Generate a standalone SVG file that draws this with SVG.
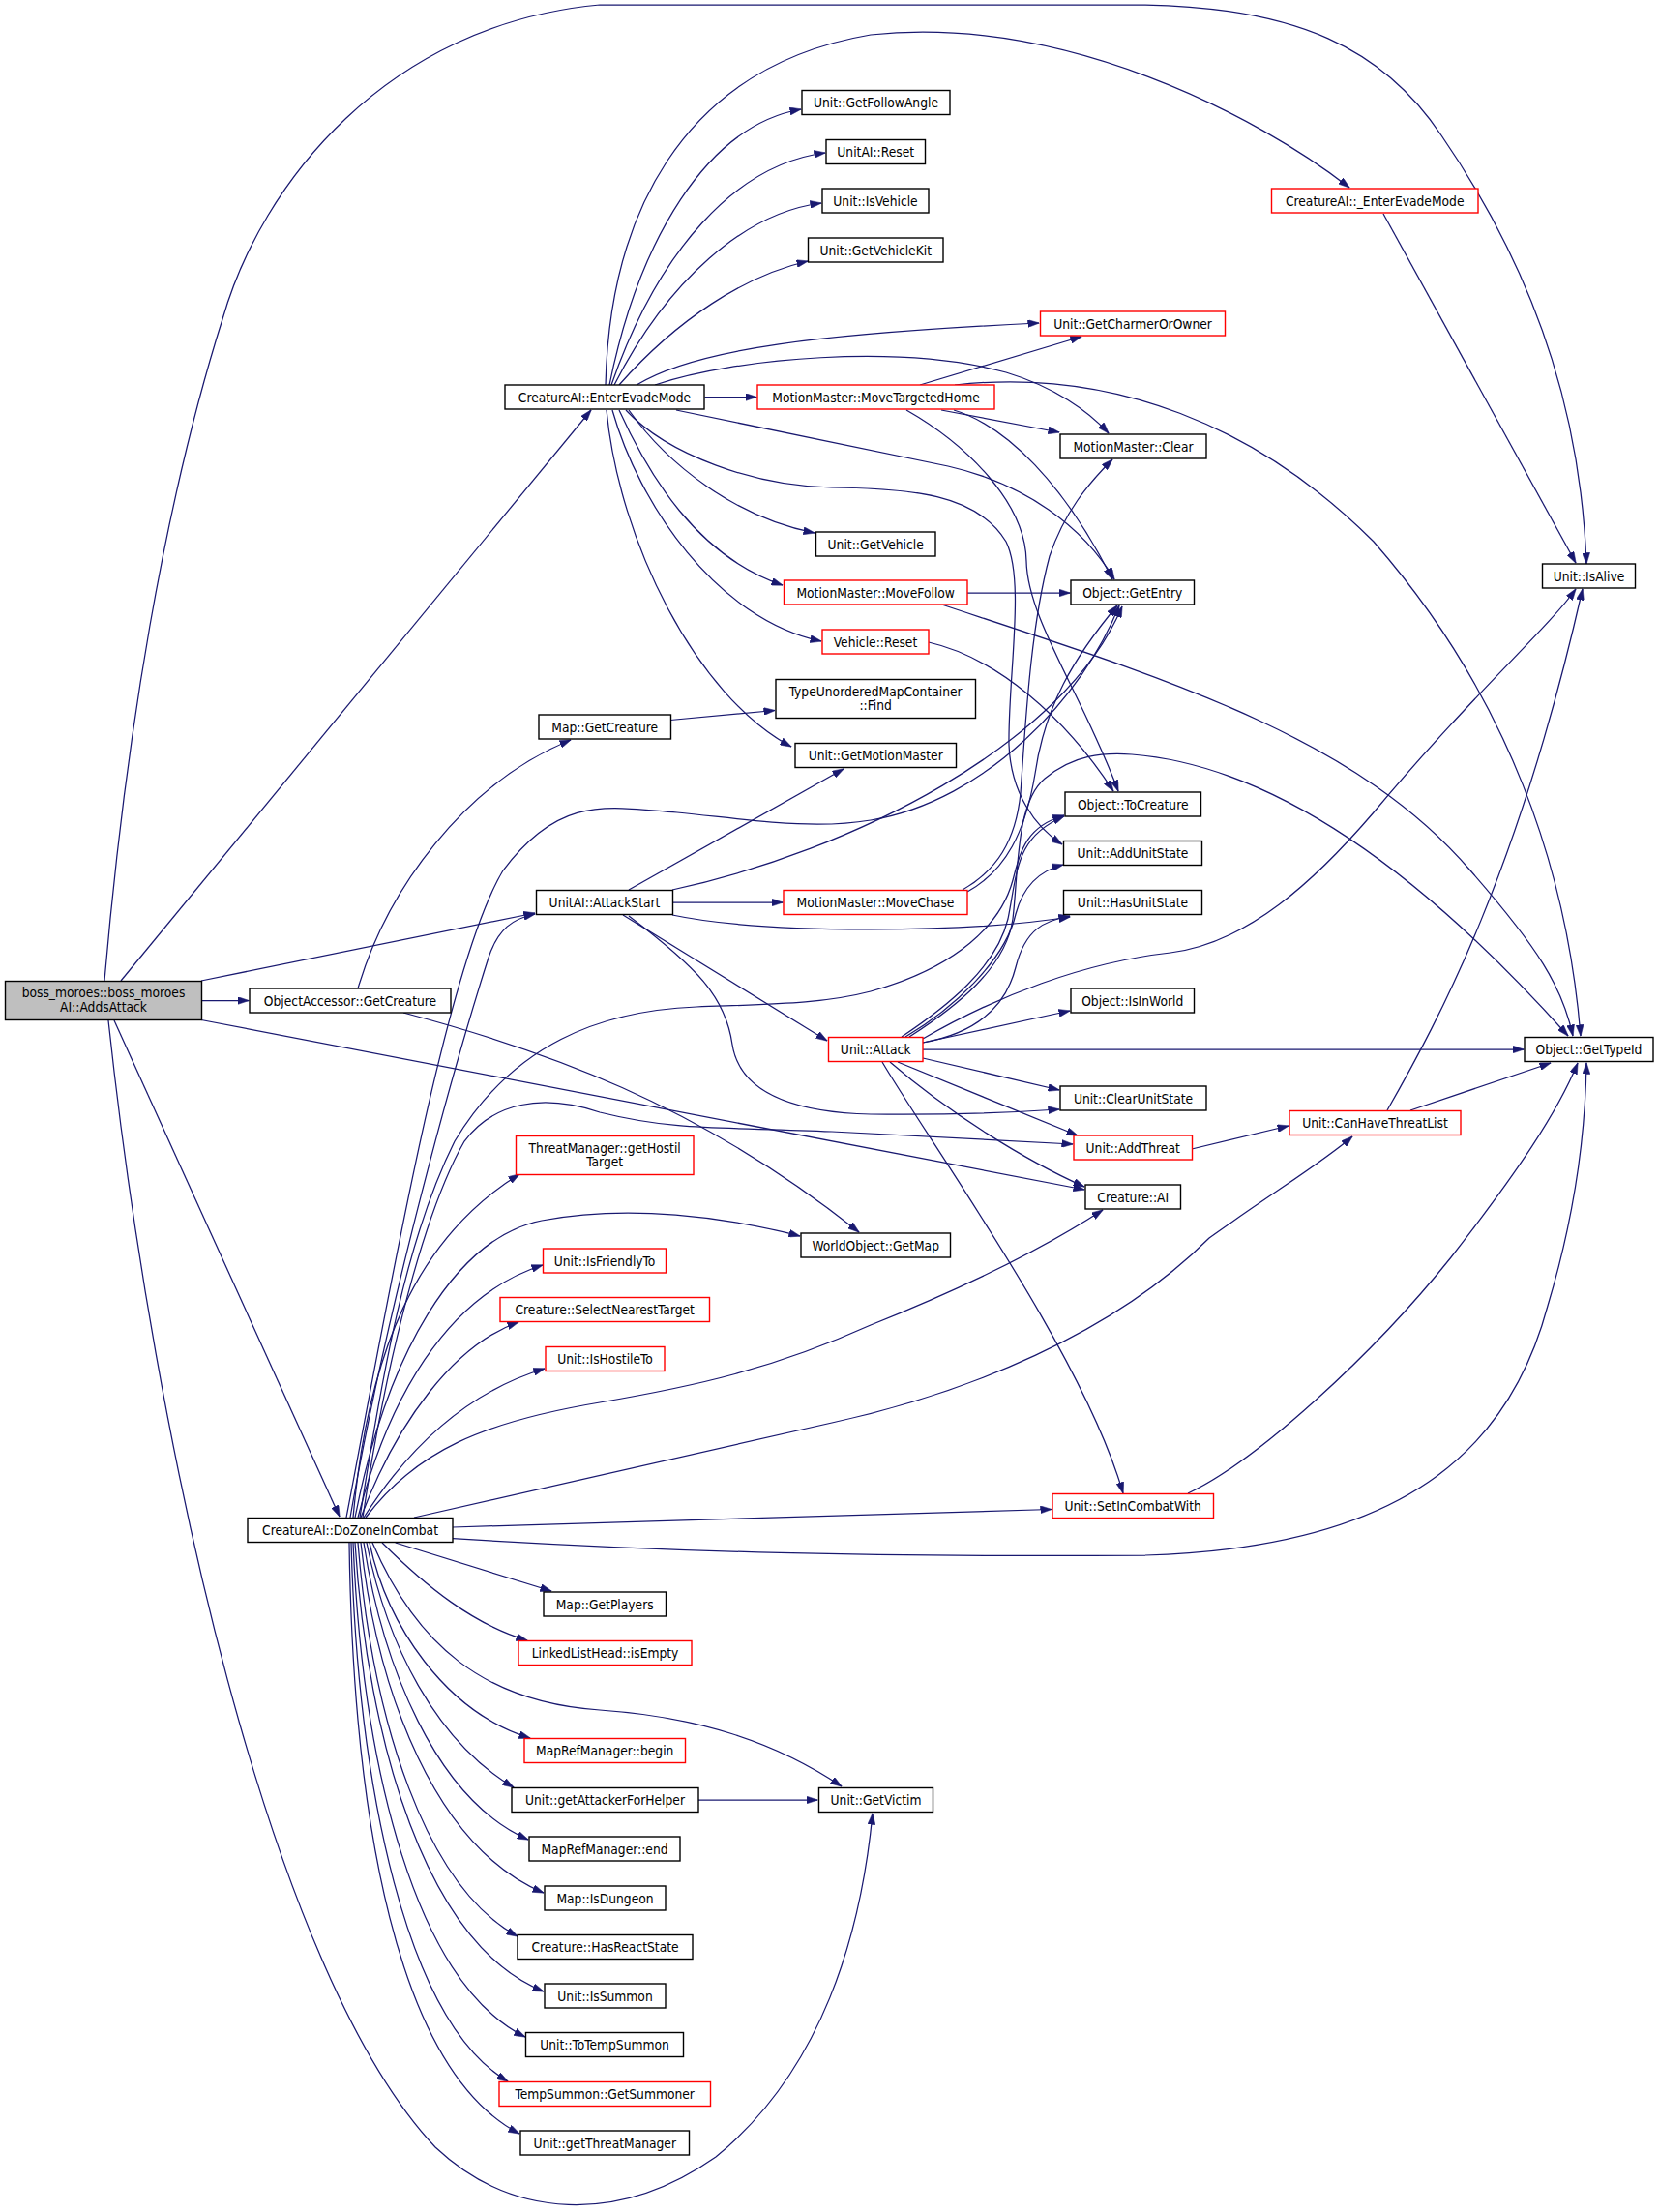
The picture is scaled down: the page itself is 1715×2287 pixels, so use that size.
<svg xmlns="http://www.w3.org/2000/svg" width="1715" height="2287" viewBox="0 0 1715 2287">
<style>
.n rect{fill:#ffffff;stroke:#000000;stroke-width:1.4}
.n.r rect{stroke:#ff0000}
.n.g rect{fill:#bfbfbf}
.n text{font-family:"DejaVu Sans Condensed","DejaVu Sans",sans-serif;font-stretch:condensed;font-size:13.7px;fill:#000000;text-anchor:middle}
#edges path{fill:none;stroke:#191970;stroke-width:1.25;marker-end:url(#ah)}
</style>
<defs>
<marker id="ah" markerUnits="userSpaceOnUse" markerWidth="12" markerHeight="8" viewBox="0 0 12 8" refX="11.5" refY="4" orient="auto">
<path d="M0,0 L12,4 L0,8 z" fill="#191970" stroke="#191970" stroke-width="0.5"/>
</marker>
</defs>
<rect x="0" y="0" width="1715" height="2287" fill="#ffffff"/>
<g id="edges">
<path d="M108,1014 C130,760 170,520 230,330 C270,190 400,25 620,5 L1184,5 C1340,8 1430,50 1490,140 C1600,300 1635,450 1640,583"/>
<path d="M125,1014 L611,424"/>
<path d="M208,1014 L553,944"/>
<path d="M208,1034.5 L257,1034.5"/>
<path d="M208,1054.5 L1121,1230"/>
<path d="M118,1055 L351,1568"/>
<path d="M112,1055 C160,1500 280,2040 450,2220 C530,2295 640,2300 740,2230 C850,2140 890,2000 902,1875"/>
<path d="M370,1022 C400,920 480,810 590,765"/>
<path d="M417,1047 C560,1085 720,1140 888,1274"/>
<path d="M693,744.5 L801,734.5"/>
<path d="M630,398 C660,250 730,130 828,113"/>
<path d="M632,398 C680,260 760,170 853,158"/>
<path d="M635,398 C690,290 770,220 849,210"/>
<path d="M640,398 C700,330 770,285 835,270"/>
<path d="M626,398 C630,230 700,70 900,36 C1100,15 1300,120 1395,194"/>
<path d="M658,398 C720,360 850,345 1074,334"/>
<path d="M728.5,410.5 L782,410.5"/>
<path d="M677,398 C760,370 930,355 1040,385 C1090,400 1125,425 1146,448"/>
<path d="M699,424 L980,482 C1060,500 1120,545 1152,599"/>
<path d="M647,424 C690,470 780,503 860,504 C940,505 1010,510 1040,560 C1060,600 1042,700 1043,770 C1045,820 1070,855 1098,873"/>
<path d="M650,424 C690,480 760,535 842,551"/>
<path d="M640,424 C670,490 720,575 809,605"/>
<path d="M633,424 C660,520 740,640 849,663"/>
<path d="M627,424 C640,560 720,720 818,772"/>
<path d="M951,398 L1118,348"/>
<path d="M973,424 L1095,447"/>
<path d="M986,424 C1040,440 1100,500 1150,599"/>
<path d="M937,424 C1000,460 1060,520 1061,580 C1062,640 1120,720 1156,818"/>
<path d="M987,398 C1150,380 1300,440 1420,560 C1560,720 1620,900 1634,1071"/>
<path d="M1000,613 L1106,613"/>
<path d="M975,625.5 C1200,700 1400,760 1520,900 C1590,980 1615,1020 1626,1071"/>
<path d="M960,664 C1030,680 1100,740 1151,818"/>
<path d="M650,920 L872,795"/>
<path d="M695,920 C880,880 1100,770 1160,627"/>
<path d="M695.5,933 L809,933"/>
<path d="M695,946 C790,966 1000,965 1106,948"/>
<path d="M644,946 L855,1076"/>
<path d="M650,947 C720,1000 750,1030 757,1080 C765,1130 820,1150 900,1152 C980,1153 1050,1150 1095,1147"/>
<path d="M362,1569 C400,1350 470,1100 505,990 C515,960 530,950 553,945"/>
<path d="M358,1569 C400,1350 460,1000 520,900 C580,820 630,835 700,840 C780,848 840,858 900,848 C1020,828 1120,720 1157,626"/>
<path d="M372,1569 C395,1420 420,1280 470,1180 C530,1080 620,1045 720,1041 C800,1038 850,1038 900,1025 C990,1000 1035,955 1047,910 C1055,880 1060,855 1100,843"/>
<path d="M375,1569 C400,1400 440,1250 480,1180 C510,1140 560,1130 620,1150 C700,1170 750,1165 860,1170 L1109,1183"/>
<path d="M365,1569 C380,1400 430,1280 537,1214"/>
<path d="M367,1569 C400,1400 470,1280 560,1262 C650,1245 750,1258 827,1278"/>
<path d="M370,1569 C400,1450 460,1340 561,1308"/>
<path d="M373,1569 C410,1470 470,1390 536,1367"/>
<path d="M376,1569 C420,1500 480,1440 563,1415"/>
<path d="M378,1569 C430,1500 500,1470 620,1450 C720,1433 800,1415 900,1370 C1000,1330 1080,1290 1140,1251"/>
<path d="M428,1569 L860,1471 C1000,1440 1150,1380 1250,1280 C1320,1230 1370,1200 1398,1175"/>
<path d="M468,1579 L1087,1560.5"/>
<path d="M468,1590.6 C700,1605 900,1610 1184,1608 C1450,1600 1560,1500 1600,1350 C1630,1250 1639,1170 1640,1099"/>
<path d="M408.7,1595 L570,1645"/>
<path d="M395,1595 C440,1640 490,1680 545,1696"/>
<path d="M385,1595 C430,1700 500,1760 620,1768 C720,1775 800,1800 870,1847"/>
<path d="M382,1595 C400,1680 460,1770 548,1797"/>
<path d="M379,1595 C400,1700 450,1800 531,1848"/>
<path d="M376,1595 C395,1720 450,1860 546,1902"/>
<path d="M373,1595 C390,1750 450,1910 562,1957"/>
<path d="M370,1595 C385,1780 440,1950 535,2002"/>
<path d="M367,1595 C380,1800 440,2010 562,2059"/>
<path d="M365,1595 C375,1830 430,2050 543,2106"/>
<path d="M363,1595 C370,1850 420,2090 525,2152"/>
<path d="M361,1595 C365,1880 410,2140 537,2206"/>
<path d="M722,1861 L845,1861"/>
<path d="M932,1072 C980,1040 1030,1000 1042,950 C1052,900 1050,865 1100,844"/>
<path d="M936,1072 C990,1040 1040,990 1050,945 C1058,915 1075,900 1099,894"/>
<path d="M954,1078 C1010,1068 1040,1040 1050,1000 C1060,960 1080,952 1106,947"/>
<path d="M954,1074 C1030,1030 1120,995 1210,985 C1290,975 1360,910 1420,840 C1520,720 1600,650 1629,609"/>
<path d="M940,1072 C990,1040 1040,1000 1047,950 C1053,900 1050,830 1080,805 C1110,780 1140,778 1170,780 C1300,790 1450,880 1621,1071"/>
<path d="M954,1078 L1106,1045"/>
<path d="M954,1085 L1575,1085"/>
<path d="M954,1094 L1095,1127"/>
<path d="M928,1098 L1114,1174"/>
<path d="M920,1098 C980,1150 1060,1200 1121,1227"/>
<path d="M912,1098 C960,1180 1120,1400 1161,1544"/>
<path d="M995,920 C1030,900 1050,870 1055,820 C1060,750 1065,650 1085,575 C1100,530 1125,500 1150,475"/>
<path d="M1000,922 C1040,900 1060,860 1070,800 C1080,730 1110,680 1155,626"/>
<path d="M1430,221 L1629,582"/>
<path d="M1232,1188 L1332,1164"/>
<path d="M1434,1148 C1490,1050 1570,900 1636,609"/>
<path d="M1458,1148 L1603,1099"/>
<path d="M1228,1544 C1300,1510 1420,1400 1500,1300 C1570,1210 1610,1150 1631,1099"/>
</g>
<g id="n_boss" class="n g"><rect x="5.5" y="1014.5" width="203" height="40"/><text x="107" y="1031">boss_moroes::boss_moroes</text><text x="107" y="1046">AI::AddsAttack</text></g>
<g id="n_enterevademode" class="n"><rect x="522" y="398" width="206" height="25"/><text x="625" y="415.5">CreatureAI::EnterEvadeMode</text></g>
<g id="n_getfollowangle" class="n"><rect x="829" y="93.5" width="153" height="25"/><text x="905.5" y="111">Unit::GetFollowAngle</text></g>
<g id="n_unitai_reset" class="n"><rect x="854" y="144.5" width="102.5" height="25"/><text x="905.2" y="162">UnitAI::Reset</text></g>
<g id="n_isvehicle" class="n"><rect x="850" y="195" width="110" height="25"/><text x="905" y="212.5">Unit::IsVehicle</text></g>
<g id="n_getvehiclekit" class="n"><rect x="835.5" y="246" width="139.5" height="25"/><text x="905.2" y="263.5">Unit::GetVehicleKit</text></g>
<g id="n__enterevademode" class="n r"><rect x="1314.5" y="195" width="213.5" height="25"/><text x="1421.2" y="212.5">CreatureAI::_EnterEvadeMode</text></g>
<g id="n_getcharmerorowner" class="n r"><rect x="1075.5" y="322" width="191" height="25"/><text x="1171" y="339.5">Unit::GetCharmerOrOwner</text></g>
<g id="n_movetargetedhome" class="n r"><rect x="783" y="398" width="245" height="25"/><text x="905.5" y="415.5">MotionMaster::MoveTargetedHome</text></g>
<g id="n_mm_clear" class="n"><rect x="1096" y="449" width="151" height="25"/><text x="1171.5" y="466.5">MotionMaster::Clear</text></g>
<g id="n_getvehicle" class="n"><rect x="843.5" y="550" width="123.5" height="25"/><text x="905.2" y="567.5">Unit::GetVehicle</text></g>
<g id="n_movefollow" class="n r"><rect x="810.5" y="600" width="189.5" height="25"/><text x="905.2" y="617.5">MotionMaster::MoveFollow</text></g>
<g id="n_getentry" class="n"><rect x="1107" y="600" width="127.5" height="25"/><text x="1170.7" y="617.5">Object::GetEntry</text></g>
<g id="n_isalive" class="n"><rect x="1594.5" y="583" width="96" height="25"/><text x="1642.5" y="600.5">Unit::IsAlive</text></g>
<g id="n_vehicle_reset" class="n r"><rect x="850" y="651" width="110" height="25"/><text x="905" y="668.5">Vehicle::Reset</text></g>
<g id="n_find" class="n"><rect x="802" y="702.5" width="206.5" height="40"/><text x="905.2" y="719.5">TypeUnorderedMapContainer</text><text x="905.2" y="734">::Find</text></g>
<g id="n_map_getcreature" class="n"><rect x="557" y="739" width="136.5" height="25"/><text x="625.2" y="756.5">Map::GetCreature</text></g>
<g id="n_getmotionmaster" class="n"><rect x="822" y="768.5" width="166.5" height="25"/><text x="905.2" y="786">Unit::GetMotionMaster</text></g>
<g id="n_tocreature" class="n"><rect x="1101" y="819" width="140.5" height="25"/><text x="1171.2" y="836.5">Object::ToCreature</text></g>
<g id="n_addunitstate" class="n"><rect x="1099.5" y="869.5" width="143" height="25"/><text x="1171" y="887">Unit::AddUnitState</text></g>
<g id="n_attackstart" class="n"><rect x="554.5" y="920.5" width="141" height="25"/><text x="625" y="938">UnitAI::AttackStart</text></g>
<g id="n_movechase" class="n r"><rect x="810" y="920.5" width="190" height="25"/><text x="905" y="938">MotionMaster::MoveChase</text></g>
<g id="n_hasunitstate" class="n"><rect x="1099.5" y="920.5" width="143" height="25"/><text x="1171" y="938">Unit::HasUnitState</text></g>
<g id="n_oa_getcreature" class="n"><rect x="258" y="1022" width="208" height="25"/><text x="362" y="1039.5">ObjectAccessor::GetCreature</text></g>
<g id="n_isinworld" class="n"><rect x="1107" y="1022" width="127.5" height="25"/><text x="1170.7" y="1039.5">Object::IsInWorld</text></g>
<g id="n_attack" class="n r"><rect x="856.5" y="1072.5" width="97.5" height="25"/><text x="905.2" y="1090">Unit::Attack</text></g>
<g id="n_gettypeid" class="n"><rect x="1576" y="1072.5" width="133" height="25"/><text x="1642.5" y="1090">Object::GetTypeId</text></g>
<g id="n_clearunitstate" class="n"><rect x="1096" y="1123" width="151" height="25"/><text x="1171.5" y="1140.5">Unit::ClearUnitState</text></g>
<g id="n_canhavethreatlist" class="n r"><rect x="1333" y="1148.5" width="177" height="25"/><text x="1421.5" y="1166">Unit::CanHaveThreatList</text></g>
<g id="n_addthreat" class="n r"><rect x="1110" y="1174" width="122.5" height="25"/><text x="1171.2" y="1191.5">Unit::AddThreat</text></g>
<g id="n_gethostiltarget" class="n r"><rect x="533.5" y="1174.5" width="183.5" height="40"/><text x="625.2" y="1191.5">ThreatManager::getHostil</text><text x="625.2" y="1206">Target</text></g>
<g id="n_creature_ai" class="n"><rect x="1122" y="1225" width="98.5" height="25"/><text x="1171.2" y="1242.5">Creature::AI</text></g>
<g id="n_getmap" class="n"><rect x="828" y="1275" width="154.5" height="25"/><text x="905.2" y="1292.5">WorldObject::GetMap</text></g>
<g id="n_isfriendlyto" class="n r"><rect x="561.5" y="1291" width="127" height="25"/><text x="625" y="1308.5">Unit::IsFriendlyTo</text></g>
<g id="n_selectnearesttarget" class="n r"><rect x="517" y="1341.5" width="216.5" height="25"/><text x="625.2" y="1359">Creature::SelectNearestTarget</text></g>
<g id="n_ishostileto" class="n r"><rect x="564" y="1392.5" width="123" height="25"/><text x="625.5" y="1410">Unit::IsHostileTo</text></g>
<g id="n_setincombatwith" class="n r"><rect x="1088" y="1544.5" width="166.5" height="25"/><text x="1171.2" y="1562">Unit::SetInCombatWith</text></g>
<g id="n_dozoneincombat" class="n"><rect x="256" y="1569.5" width="212" height="25"/><text x="362" y="1587">CreatureAI::DoZoneInCombat</text></g>
<g id="n_getplayers" class="n"><rect x="562" y="1646" width="126.5" height="25"/><text x="625.2" y="1663.5">Map::GetPlayers</text></g>
<g id="n_isempty" class="n r"><rect x="536" y="1696.5" width="179" height="25"/><text x="625.5" y="1714">LinkedListHead::isEmpty</text></g>
<g id="n_begin" class="n r"><rect x="542" y="1797.5" width="166.5" height="25"/><text x="625.2" y="1815">MapRefManager::begin</text></g>
<g id="n_getattackerforhelper" class="n"><rect x="529" y="1848.5" width="193" height="25"/><text x="625.5" y="1866">Unit::getAttackerForHelper</text></g>
<g id="n_getvictim" class="n"><rect x="846.5" y="1848.5" width="118" height="25"/><text x="905.5" y="1866">Unit::GetVictim</text></g>
<g id="n_end" class="n"><rect x="547" y="1899" width="156" height="25"/><text x="625" y="1916.5">MapRefManager::end</text></g>
<g id="n_isdungeon" class="n"><rect x="563" y="1950" width="125" height="25"/><text x="625.5" y="1967.5">Map::IsDungeon</text></g>
<g id="n_hasreactstate" class="n"><rect x="535" y="2000.5" width="181" height="25"/><text x="625.5" y="2018">Creature::HasReactState</text></g>
<g id="n_issummon" class="n"><rect x="563" y="2051" width="125" height="25"/><text x="625.5" y="2068.5">Unit::IsSummon</text></g>
<g id="n_totempsummon" class="n"><rect x="543.5" y="2101.5" width="163" height="25"/><text x="625" y="2119">Unit::ToTempSummon</text></g>
<g id="n_getsummoner" class="n r"><rect x="516" y="2152.5" width="218.5" height="25"/><text x="625.2" y="2170">TempSummon::GetSummoner</text></g>
<g id="n_getthreatmanager" class="n"><rect x="538" y="2203" width="174.5" height="25"/><text x="625.2" y="2220.5">Unit::getThreatManager</text></g>
</svg>
